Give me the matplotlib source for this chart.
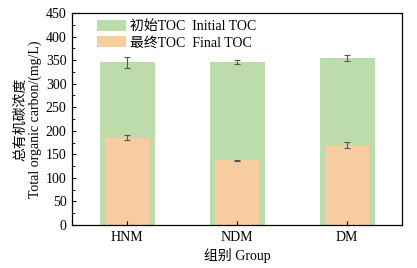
import numpy as np
import matplotlib.pyplot as plt
from matplotlib.ticker import MultipleLocator

plt.rcParams['font.family'] = ['Liberation Serif', 'Noto Sans CJK SC']
plt.rcParams['font.size'] = 10

# Data
groups = ['HNM', 'NDM', 'DM']
initial_toc = [345, 346, 354]
initial_err = [12, 4, 6]
final_toc = [185, 137, 170]
final_err = [5, 1, 6]

green = '#bddcab'
orange = '#f8cca1'

fig = plt.figure(figsize=(4.17, 2.68), dpi=100)
ax = fig.add_axes([72 / 417, 43 / 268, 330 / 417, 212 / 268])

x = np.arange(len(groups))
ax.bar(x, initial_toc, width=0.5, color=green, label='初始TOC  Initial TOC')
ax.bar(x, final_toc, width=0.4, color=orange, label='最终TOC  Final TOC')
ax.errorbar(x, initial_toc, yerr=initial_err, fmt='none', ecolor='#555555',
            elinewidth=0.8, capsize=2.5, capthick=0.8)
ax.errorbar(x, final_toc, yerr=final_err, fmt='none', ecolor='#555555',
            elinewidth=0.8, capsize=2.5, capthick=0.8)

ax.set_xlim(-0.5, 2.5)
ax.set_ylim(0, 450)
ax.set_xticks(x)
ax.set_xticklabels(groups)
ax.yaxis.set_major_locator(MultipleLocator(50))
ax.yaxis.set_minor_locator(MultipleLocator(25))
ax.tick_params(axis='both', direction='in', length=3, width=0.8, pad=4)
ax.tick_params(axis='y', which='minor', direction='in', length=1.8, width=0.6)
for s in ax.spines.values():
    s.set_linewidth(0.9)

ax.set_xlabel('组别 Group', labelpad=3)
ax.set_ylabel('总有机碳浓度\nTotal organic carbon/(mg/L)', labelpad=3,
              linespacing=1.1)

ax.legend(loc='upper left', bbox_to_anchor=(0.059, 0.995), frameon=False,
          handlelength=2.1, handleheight=0.9, handletextpad=0.3,
          labelspacing=0.2, borderaxespad=0)

fig.savefig('out.png', dpi=100)
